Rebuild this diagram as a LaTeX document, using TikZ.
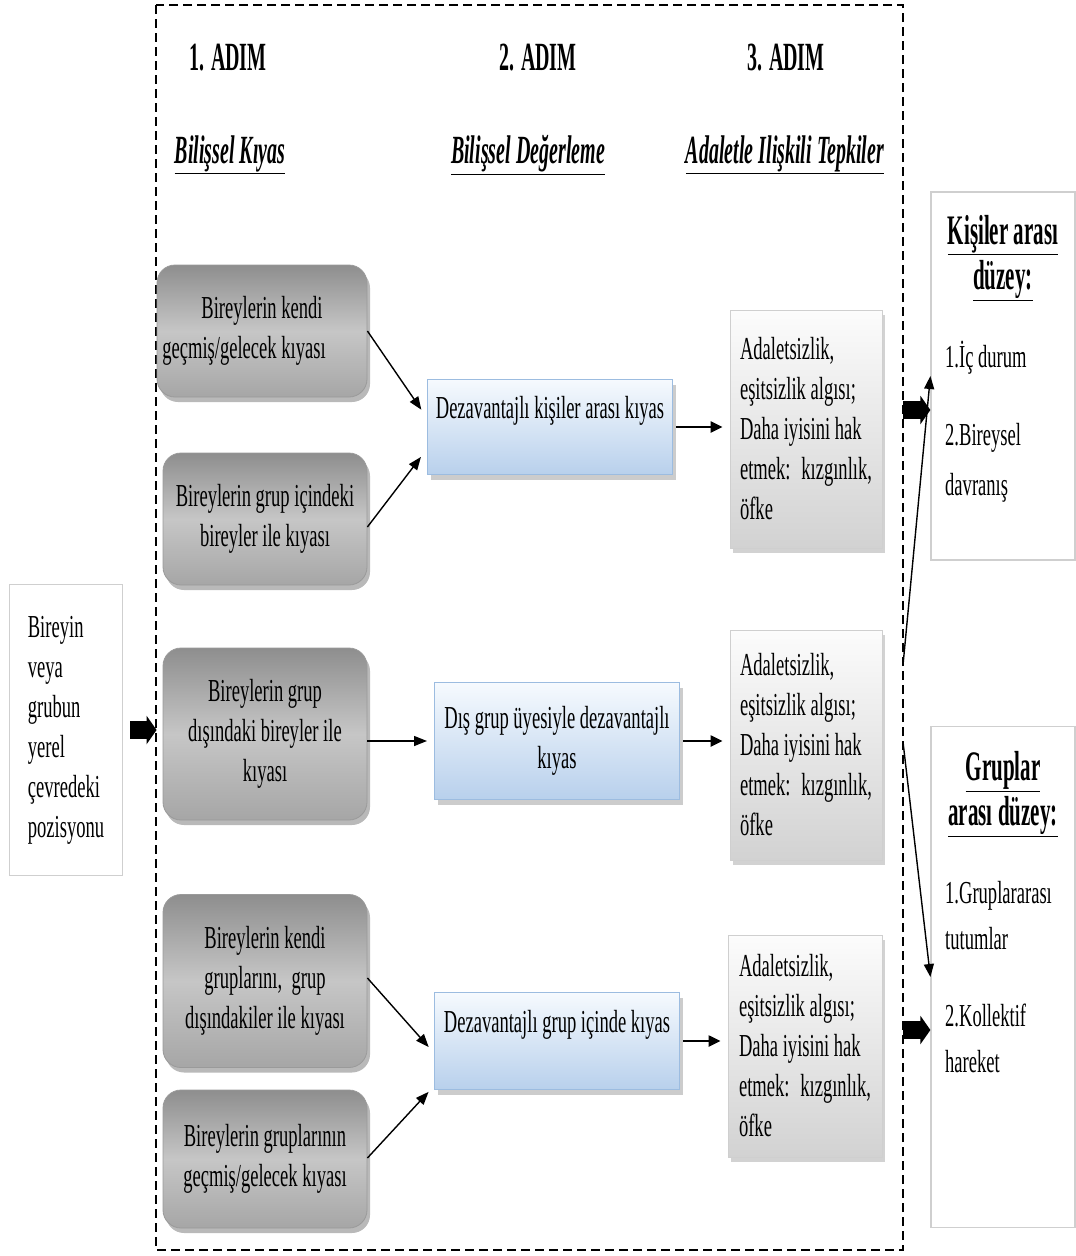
\documentclass[tikz,border=0pt]{standalone}
\usepackage{fontspec}
\newfontfamily\bodyfont[FakeStretch=0.58]{Liberation Serif}
\newfontfamily\headfont[FakeStretch=0.5]{Liberation Serif}
\usetikzlibrary{arrows.meta,shadows}
\definecolor{gtop}{HTML}{8E8E8E}
\definecolor{gmid}{HTML}{C6C6C6}
\definecolor{gbot}{HTML}{A6A6A6}
\definecolor{gbord}{HTML}{9A9A9A}
\definecolor{btop}{HTML}{F6FAFE}
\definecolor{bbot}{HTML}{B8D0EC}
\definecolor{bbord}{HTML}{9CBCE0}
\definecolor{ltop}{HTML}{FCFCFC}
\definecolor{lbot}{HTML}{D2D2D2}
\definecolor{lbord}{HTML}{CFCFCF}

\begin{document}
\begin{tikzpicture}[
    x=1pt,y=-1pt,
    txt/.style={font=\bodyfont\fontsize{32}{40}\selectfont,inner sep=0pt},
    gbox/.style={txt,align=center,rounded corners=18pt,draw=gbord,line width=.8pt,top color=gtop,bottom color=gbot,middle color=gmid,
      minimum width=204pt,drop shadow={shadow xshift=3pt,shadow yshift=-5pt,fill=black!55}},
    bbox/.style={txt,align=center,draw=bbord,line width=1pt,top color=btop,bottom color=bbot,
      minimum width=245pt,drop shadow={shadow xshift=3pt,shadow yshift=-5pt,fill=black!40}},
    lbox/.style={txt,align=left,draw=lbord,line width=.8pt,top color=ltop,bottom color=lbot,
      minimum width=152pt,drop shadow={shadow xshift=3pt,shadow yshift=-5pt,fill=black!35}},
    pbox/.style={txt,align=left,draw=lbord,line width=1.2pt,fill=white},
    head/.style={font=\headfont\bfseries\fontsize{40}{48}\selectfont,inner sep=0pt},
    subhead/.style={font=\headfont\bfseries\itshape\fontsize{40}{48}\selectfont,inner sep=0pt},
    lvltitle/.style={font=\headfont\bfseries\fontsize{42}{45}\selectfont,align=center,inner sep=0pt},
    lvlitem/.style={txt,align=left,anchor=west},
    frame/.style={dash pattern=on 9pt off 5pt,line width=2pt},
    con/.style={-{Triangle[length=13pt,width=10pt]},line width=1.4pt},
    con2/.style={-{Triangle[length=12pt,width=11pt]},line width=2.2pt},
    fat/.style={-{Triangle[length=10pt,width=28pt]},line width=18pt}
  ]
    \useasboundingbox (0,0) rectangle (1076,1256);
    \draw[frame] (156,5) rectangle (903,1250);
    % column headings
    \node[head] (h1) at (228,58) {1. ADIM};
    \node[head] (h2) at (538,58) {2. ADIM};
    \node[head] (h3) at (786,58) {3. ADIM};
    \node[subhead] (s1) at (230,155) {\underline{Bilişsel Kıyas}};
    \node[subhead] (s2) at (528,155) {\underline{Bilişsel Değerleme}};
    \node[subhead] (s3) at (785,155) {\underline{Adaletle Ilişkili Tepkiler}};
    % step 1
    \node[gbox,minimum width=210pt,minimum height=132pt] (g1) at (262,331) {Bireylerin kendi\\geçmiş/gelecek kıyası\hspace*{36pt}};
    \node[gbox,minimum height=132pt] (g2) at (265,519) {Bireylerin grup içindeki\\bireyler ile kıyası};
    \node[gbox,minimum height=172pt] (g3) at (265,734) {Bireylerin grup\\dışındaki bireyler ile\\kıyası};
    \node[gbox,minimum height=173pt] (g4) at (265,981) {Bireylerin kendi\\gruplarını,~ grup\\dışındakiler ile kıyası};
    \node[gbox,minimum height=138pt] (g5) at (265,1159) {Bireylerin gruplarının\\geçmiş/gelecek kıyası};
    % step 2
    \node[bbox,minimum height=95pt] (b1) at (550,427) {Dezavantajlı kişiler arası kıyas\\\mbox{}};
    \node[bbox,minimum height=117pt] (b2) at (557,741) {Dış grup üyesiyle dezavantajlı\\kıyas};
    \node[bbox,minimum height=97pt] (b3) at (557,1041) {Dezavantajlı grup içinde kıyas\\\mbox{}};
    % step 3
    \node[lbox,minimum height=238pt] (r1) at (806,429) {Adaletsizlik,\\eşitsizlik algısı;\\Daha iyisini hak\\etmek:~ kızgınlık,\\öfke};
    \node[lbox,minimum height=230pt] (r2) at (806,745) {Adaletsizlik,\\eşitsizlik algısı;\\Daha iyisini hak\\etmek:~ kızgınlık,\\öfke};
    \node[lbox,minimum width=154pt,minimum height=222pt] (r3) at (805,1046) {Adaletsizlik,\\eşitsizlik algısı;\\Daha iyisini hak\\etmek:~ kızgınlık,\\öfke};
    % position and levels
    \node[pbox,minimum width=113pt,minimum height=291pt] (pos) at (66,730) {Bireyin\\veya\\grubun\\yerel\\çevredeki\\pozisyonu};
    \node[pbox,minimum width=144pt,minimum height=368pt] (k) at (1003,376) {};
    \node[lvltitle] (kt) at (1003,258) {\underline{Kişiler arası}\\\underline{düzey:}};
    \node[lvlitem,font=\bodyfont\fontsize{32}{50}\selectfont] (ki) at (945,422) {1.İç durum\\[28pt]2.Bireysel\\davranış};
    \node[pbox,minimum width=144pt,minimum height=501pt] (gr) at (1003,977) {};
    \node[lvltitle] (grt) at (1003,794) {\underline{Gruplar}\\\underline{arası düzey:}};
    \node[lvlitem,font=\bodyfont\fontsize{32}{46}\selectfont] (gri) at (945,977) {1.Gruplararası\\tutumlar\\[31pt]2.Kollektif\\hareket};
    % connectors
    \draw[con,shorten >=10pt] (g1.east) -- ([yshift=9pt]b1.west);
    \draw[con,shorten >=10pt] ([yshift=-8pt]g2.east) -- ([yshift=-22pt]b1.west);
    \draw[con,shorten >=7pt] (g3.east |- b2.west) -- (b2.west);
    \draw[con,shorten >=8pt] ([yshift=3pt]g4.east) -- ([yshift=-12pt]b3.west);
    \draw[con,shorten >=8pt] ([yshift=1pt]g5.east) -- ([yshift=-45pt]b3.west);
    \foreach \s/\t in {b1/r1,b2/r2,b3/r3} {\draw[con2,shorten <=3pt,shorten >=7pt] (\s.east) -- (\s.east -| \t.west);}
    \draw[fat,shorten <=7pt,shorten >=6pt] (pos.east) -- (pos.east -| g3.west);
    \coordinate (kin) at (903,410);
    \coordinate (grin) at (903,1030);
    \coordinate (kup) at (903,665);
    \coordinate (grdown) at (903,742);
    \draw[fat] (kin) -- (kin -| k.west);
    \draw[fat] (grin) -- (grin -| gr.west);
    \draw[con] (kup) -- (k.west);
    \draw[con] (grdown) -- (gr.west);
  \end{tikzpicture}
\end{document}
